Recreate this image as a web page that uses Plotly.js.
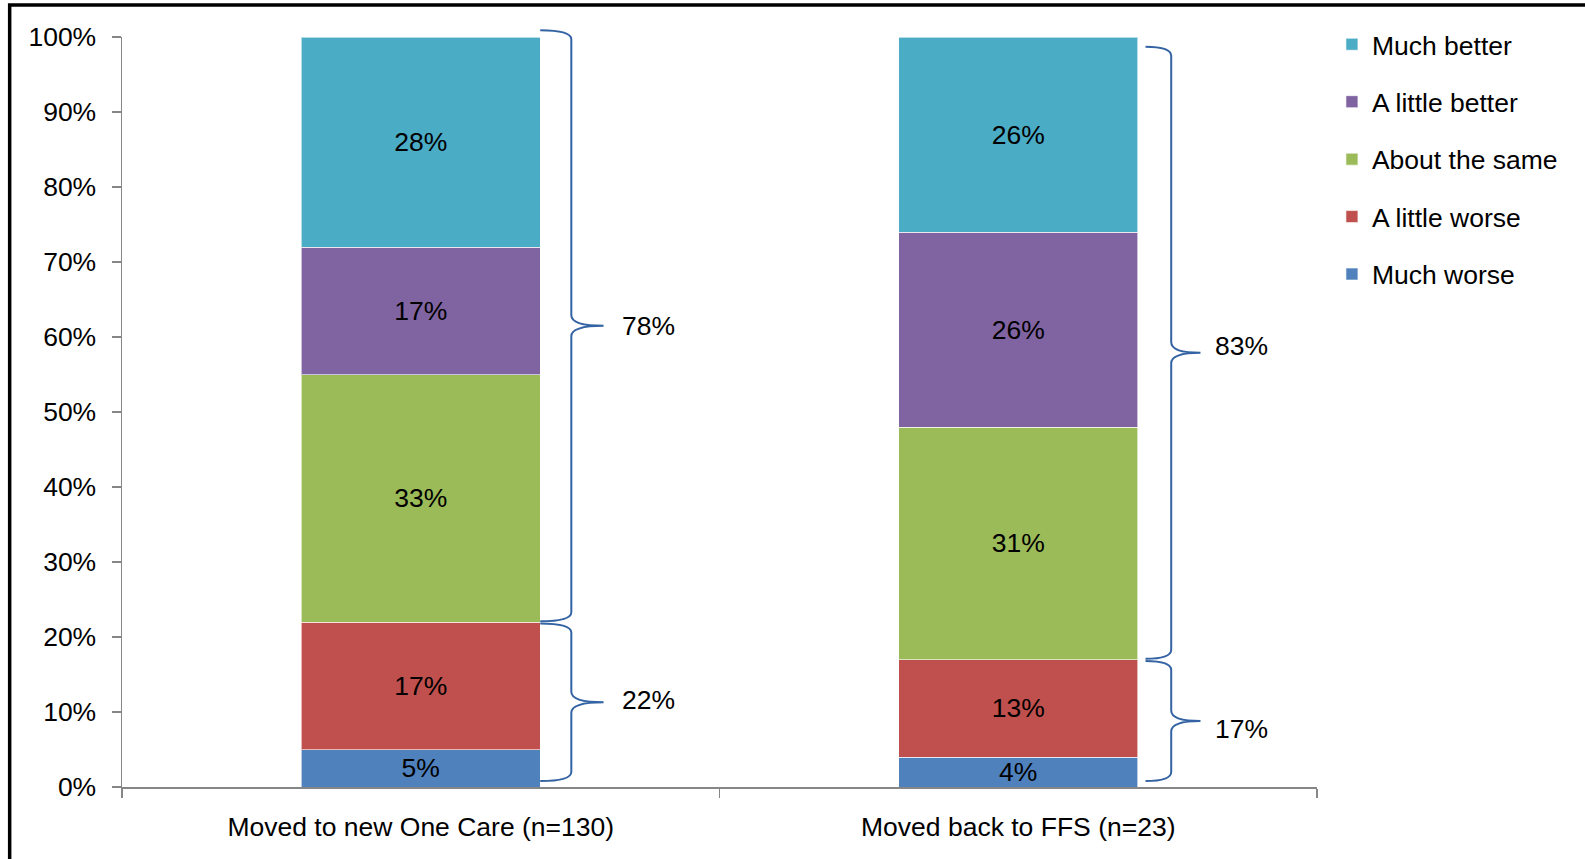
<!DOCTYPE html>
<html>
<head>
<meta charset="utf-8">
<script src="https://cdn.plot.ly/plotly-3.0.1.min.js"></script>
<style>html,body{margin:0;padding:0;background:#fff;}#chart{width:1585px;height:859px;}</style>
</head>
<body>
<div id="chart"></div>
<script>
// ---- data ----
const categories = ['Moved to new One Care (n=130)', 'Moved back to FFS (n=23)'];
const seriesNames = ['Much worse', 'A little worse', 'About the same', 'A little better', 'Much better'];
const muchWorse = [5, 4];
const aLittleWorse = [17, 13];
const aboutTheSame = [33, 31];
const aLittleBetter = [17, 26];
const muchBetter = [28, 26];
const netWorseLabels = ['22%', '17%'];
const netBetterLabels = ['78%', '83%'];
const yTickVals = [0, 10, 20, 30, 40, 50, 60, 70, 80, 90, 100];
const yTickText = ['0%', '10%', '20%', '30%', '40%', '50%', '60%', '70%', '80%', '90%', '100%'];

// ---- styles ----
const colors = ['#4F81BD', '#C0504D', '#9BBB59', '#8064A2', '#4BACC6'];
const FONT = '"Liberation Sans Narrow", "Arial Narrow", "Liberation Sans", Arial, sans-serif';
const FS = 26.5;
const braceColor = '#3463A3';

const seriesValues = [muchWorse, aLittleWorse, aboutTheSame, aLittleBetter, muchBetter];

const traces = seriesValues.map((vals, i) => ({
  type: 'bar',
  name: seriesNames[i],
  x: categories,
  y: vals,
  legendgroup: 'g' + i,
  legendrank: 5 - i,
  marker: {color: colors[i], line: {color: 'rgba(255,255,255,0.6)', width: 1}},
  text: vals.map(v => v + '%'),
  textposition: 'inside',
  insidetextanchor: 'middle',
  textfont: {family: FONT, size: FS, color: '#000'},
  hoverinfo: 'name+y'
}));

// brace geometry (per bar, in category units from bar centre)
const braceX = [
  {start: 0.200, vert: 0.252, tip: 0.306, label: 0.381},
  {start: 0.213, vert: 0.256, tip: 0.305, label: 0.373}
];
const upperTopPad = [0.9, -1.3];
const upperLabelShift = [0, 7];
const lowerLabelShift = [2, -8];

// convert category-unit x and y-% to paper coordinates (x range [-0.5,1.5], y range [0,100])
const px = x => (x + 0.5) / 2;
const py = y => y / 100;

function bracePath(x0, xv, xt, yb, yt, r) {
  const ym = (yb + yt) / 2;
  const rt = 1.2;
  const P = (x, y) => `${px(x)},${py(y)}`;
  return `M${P(x0, yt)} Q${P(xv, yt)} ${P(xv, yt - rt)} ` +
         `L${P(xv, ym + r)} Q${P(xv, ym)} ${P(xt, ym)} ` +
         `Q${P(xv, ym)} ${P(xv, ym - r)} ` +
         `L${P(xv, yb + rt)} Q${P(xv, yb)} ${P(x0, yb)}`;
}

const shapes = [];
const annotations = [];
categories.forEach((c, i) => {
  const worse = muchWorse[i] + aLittleWorse[i];
  const total = worse + aboutTheSame[i] + aLittleBetter[i] + muchBetter[i];
  const bx = braceX[i];
  const lowB = 0.8, lowT = worse - 0.2;
  const upB = worse + 0.1, upT = total + upperTopPad[i];
  shapes.push({type: 'path', xref: 'paper', yref: 'paper',
    path: bracePath(i + bx.start, i + bx.vert, i + bx.tip, upB, upT, 1.4),
    line: {color: braceColor, width: 2}});
  shapes.push({type: 'path', xref: 'paper', yref: 'paper',
    path: bracePath(i + bx.start, i + bx.vert, i + bx.tip, lowB, lowT, 1.4),
    line: {color: braceColor, width: 2}});
  annotations.push({xref: 'paper', yref: 'paper', x: px(i + bx.label), y: py((upB + upT) / 2),
    xanchor: 'center', yanchor: 'middle',
    text: netBetterLabels[i], showarrow: false, yshift: upperLabelShift[i],
    font: {family: FONT, size: FS, color: '#000'}});
  annotations.push({xref: 'paper', yref: 'paper', x: px(i + bx.label), y: py((lowB + lowT) / 2),
    xanchor: 'center', yanchor: 'middle',
    text: netWorseLabels[i], showarrow: false, yshift: lowerLabelShift[i],
    font: {family: FONT, size: FS, color: '#000'}});
});

// outer frame (left + top lines)
shapes.push({type: 'path', xref: 'paper', yref: 'paper',
  path: 'M-0.094,-0.3 L-0.094,1.0427 L1.45,1.0427',
  line: {color: '#000', width: 3.5}});

const layout = {
  width: 1585, height: 859,
  margin: {l: 122, r: 268, t: 37, b: 72},
  paper_bgcolor: '#fff', plot_bgcolor: '#fff',
  barmode: 'stack',
  bargap: 0.6,
  font: {family: FONT, size: FS, color: '#000'},
  uniformtext: {mode: 'show', minsize: FS},
  xaxis: {
    type: 'category', range: [-0.5, 1.5],
    tickson: 'boundaries', ticks: 'outside', ticklen: 9, tickcolor: '#868686', tickwidth: 1.5,
    showline: true, linecolor: '#868686', linewidth: 1.5,
    showgrid: false, zeroline: false,
    ticklabelstandoff: 16,
    tickfont: {family: FONT, size: FS, color: '#000'},
    fixedrange: true
  },
  yaxis: {
    range: [0, 100], tickmode: 'array', tickvals: yTickVals, ticktext: yTickText,
    ticks: 'outside', ticklen: 9, tickcolor: '#868686', tickwidth: 1.5,
    showline: true, linecolor: '#868686', linewidth: 1.5,
    showgrid: false, zeroline: false,
    ticklabelstandoff: 10,
    tickfont: {family: FONT, size: FS, color: '#000'},
    fixedrange: true
  },
  showlegend: true,
  legend: {
    x: 1.0125, xanchor: 'left', y: 1.022, yanchor: 'top',
    traceorder: 'grouped', tracegroupgap: 20,
    font: {family: FONT, size: FS, color: '#000'},
    bgcolor: 'rgba(0,0,0,0)'
  },
  shapes: shapes,
  annotations: annotations
};

Plotly.newPlot('chart', traces, layout, {displayModeBar: false, staticPlot: true});
</script>
</body>
</html>
